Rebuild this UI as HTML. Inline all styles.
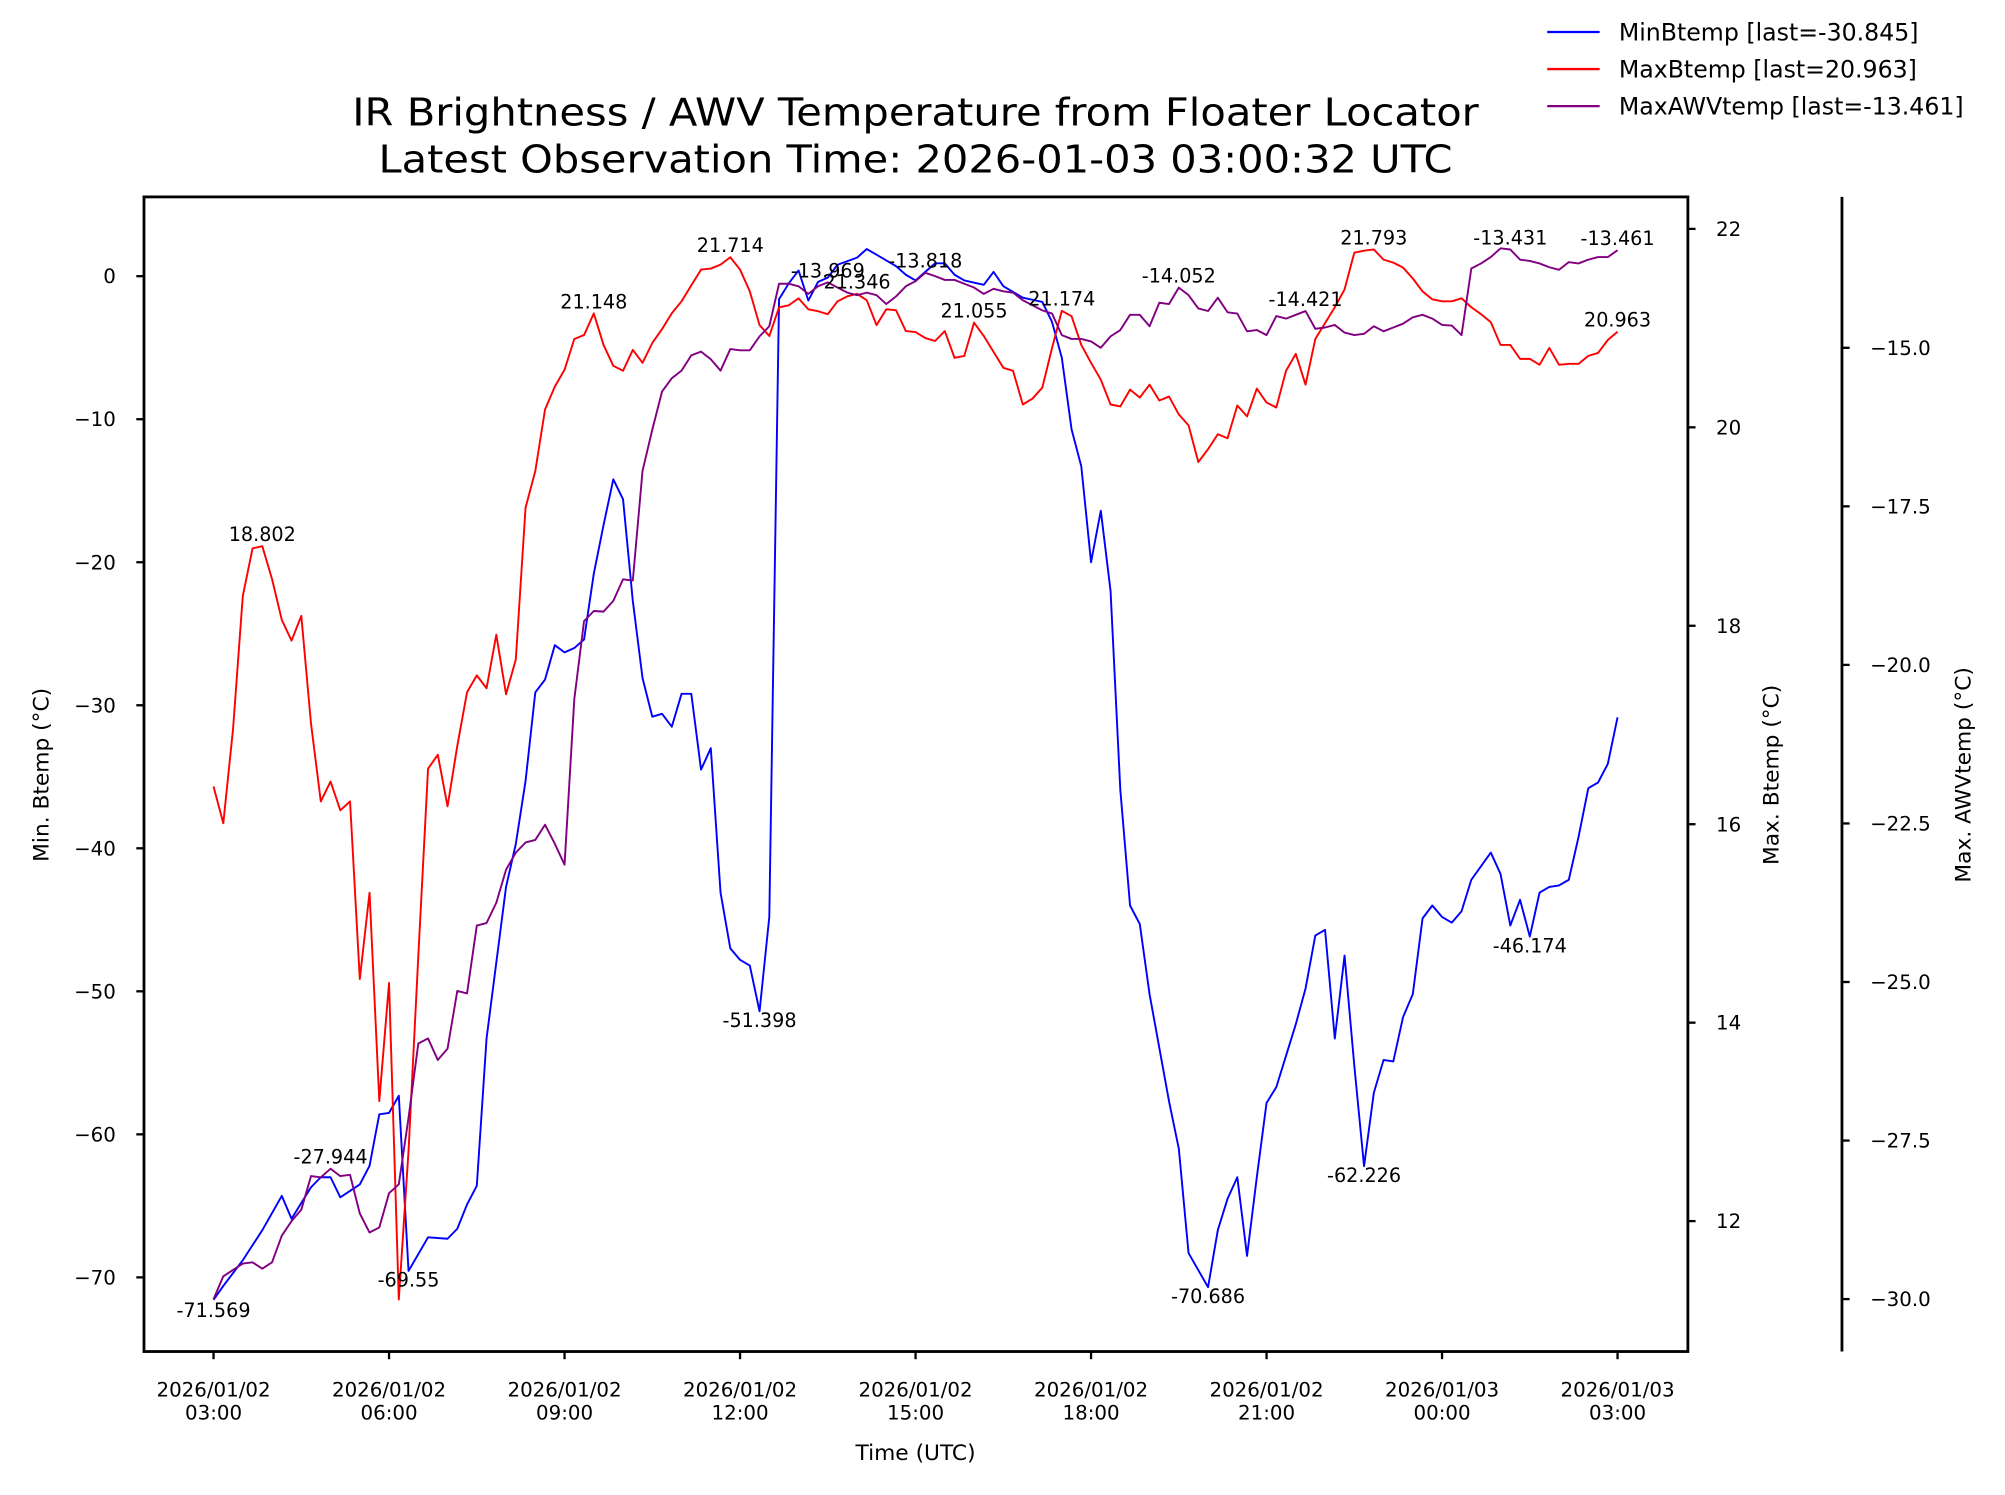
<!DOCTYPE html>
<html><head><meta charset="utf-8"><style>
html,body{margin:0;padding:0;background:#fff}
svg{display:block}
text{font-family:"DejaVu Sans","Liberation Sans",sans-serif;fill:#000}
</style></head><body>
<svg id="chart" width="2005" height="1495" viewBox="0 0 1568 1169.2" preserveAspectRatio="none" xmlns="http://www.w3.org/2000/svg">
<rect x="0" y="0" width="1568" height="1170" fill="#fff"/>
<text x="716" y="98" font-size="30" text-anchor="middle" textLength="881" lengthAdjust="spacingAndGlyphs">IR Brightness / AWV Temperature from Floater Locator</text>
<text x="716" y="135" font-size="30" text-anchor="middle" textLength="840" lengthAdjust="spacingAndGlyphs">Latest Observation Time: 2026-01-03 03:00:32 UTC</text>
<g id="plot"></g>
</svg>
<script>
const minTimes=[0,10,30,50,70,80,100,110,120,130,150,160,170,180,190,200,220,240,250,260,270,280,300,310,320,330,340,350,360,370,380,390,400,410,420,430,440,450,460,470,480,490,500,510,520,530,540,550,560,570,580,590,600,610,620,630,640,660,670,680,690,700,710,720,730,740,750,760,770,790,800,810,830,850,860,870,880,890,900,910,920,930,940,950,960,980,990,1000,1020,1030,1040,1050,1060,1070,1080,1090,1100,1110,1120,1130,1140,1150,1160,1170,1180,1190,1200,1210,1220,1230,1240,1250,1260,1270,1280,1290,1310,1320,1330,1340,1350,1360,1370,1380,1390,1400,1410,1420,1430,1440];
const minVals=[-71.569,-70.6,-68.8,-66.7,-64.3,-65.9,-63.7,-63.0,-63.0,-64.4,-63.5,-62.2,-58.6,-58.5,-57.3,-69.55,-67.2,-67.3,-66.6,-64.9,-63.6,-53.3,-42.7,-39.7,-35.3,-29.1,-28.2,-25.8,-26.3,-26.0,-25.4,-20.8,-17.4,-14.2,-15.6,-22.7,-28.1,-30.8,-30.6,-31.5,-29.2,-29.2,-34.5,-33.0,-43.1,-47.0,-47.8,-48.2,-51.398,-44.8,-1.6,-0.5,0.4,-1.7,-0.4,-0.1,0.8,1.3,1.9,1.5,1.1,0.7,0.1,-0.3,0.3,0.9,0.9,0.1,-0.3,-0.6,0.3,-0.7,-1.5,-1.8,-3.2,-5.7,-10.7,-13.3,-20.0,-16.4,-22.0,-35.9,-44.0,-45.3,-50.2,-57.7,-61.0,-68.3,-70.686,-66.7,-64.5,-63.0,-68.5,-63.0,-57.8,-56.7,-54.5,-52.3,-49.8,-46.1,-45.7,-53.3,-47.5,-55.2,-62.226,-57.1,-54.8,-54.9,-51.8,-50.2,-44.9,-44.0,-44.8,-45.2,-44.4,-42.2,-40.3,-41.8,-45.4,-43.6,-46.174,-43.1,-42.7,-42.6,-42.2,-39.2,-35.8,-35.4,-34.1,-30.845];
const maxVals=[16.38,16.01,16.96,18.30,18.78,18.802,18.47,18.06,17.85,18.10,17.01,16.23,16.43,16.14,16.23,14.44,15.31,13.21,14.40,11.21,12.71,14.67,16.56,16.70,16.18,16.79,17.33,17.50,17.37,17.91,17.31,17.66,19.19,19.56,20.18,20.41,20.58,20.89,20.93,21.148,20.83,20.62,20.57,20.78,20.65,20.85,20.99,21.15,21.27,21.43,21.59,21.60,21.64,21.714,21.59,21.37,21.03,20.92,21.21,21.23,21.30,21.19,21.17,21.14,21.27,21.32,21.346,21.28,21.03,21.19,21.18,20.97,20.96,20.90,20.87,20.97,20.70,20.72,21.055,20.92,20.76,20.60,20.57,20.23,20.29,20.40,20.80,21.174,21.12,20.83,20.65,20.48,20.23,20.21,20.38,20.30,20.43,20.27,20.31,20.13,20.02,19.65,19.78,19.93,19.89,20.22,20.11,20.39,20.25,20.20,20.57,20.74,20.43,20.89,21.05,21.21,21.39,21.76,21.78,21.793,21.69,21.66,21.61,21.50,21.37,21.29,21.27,21.27,21.30,21.21,21.14,21.06,20.83,20.83,20.69,20.69,20.63,20.80,20.63,20.64,20.64,20.72,20.75,20.88,20.963];
const awvVals=[-30.0,-29.64,-29.54,-29.44,-29.42,-29.52,-29.42,-29.0,-28.77,-28.59,-28.06,-28.08,-27.944,-28.06,-28.04,-28.65,-28.95,-28.87,-28.33,-28.19,-27.14,-25.97,-25.89,-26.23,-26.05,-25.14,-25.18,-24.11,-24.07,-23.75,-23.23,-22.96,-22.80,-22.76,-22.52,-22.82,-23.15,-20.54,-19.31,-19.15,-19.16,-18.99,-18.65,-18.67,-16.94,-16.29,-15.69,-15.48,-15.36,-15.12,-15.06,-15.18,-15.36,-15.02,-15.04,-15.04,-14.82,-14.66,-13.99,-13.99,-14.03,-14.15,-14.03,-13.969,-14.05,-14.13,-14.17,-14.13,-14.17,-14.31,-14.19,-14.03,-13.95,-13.818,-13.87,-13.93,-13.93,-13.99,-14.05,-14.15,-14.07,-14.11,-14.13,-14.25,-14.33,-14.41,-14.46,-14.80,-14.86,-14.86,-14.90,-15.0,-14.82,-14.72,-14.48,-14.48,-14.66,-14.29,-14.31,-14.052,-14.17,-14.38,-14.42,-14.21,-14.44,-14.46,-14.74,-14.72,-14.80,-14.50,-14.54,-14.48,-14.421,-14.70,-14.68,-14.64,-14.76,-14.80,-14.78,-14.66,-14.74,-14.68,-14.62,-14.52,-14.48,-14.54,-14.64,-14.65,-14.80,-13.75,-13.67,-13.57,-13.431,-13.45,-13.61,-13.63,-13.67,-13.73,-13.77,-13.65,-13.67,-13.61,-13.57,-13.57,-13.461];
const stepMinutes=10;
const xTickLabels=[["2026/01/02","03:00"],["2026/01/02","06:00"],["2026/01/02","09:00"],["2026/01/02","12:00"],["2026/01/02","15:00"],["2026/01/02","18:00"],["2026/01/02","21:00"],["2026/01/03","00:00"],["2026/01/03","03:00"]];
const minTicks=[-70,-60,-50,-40,-30,-20,-10,0];
const maxTicks=[12,14,16,18,20,22];
const awvTicks=[-30.0,-27.5,-25.0,-22.5,-20.0,-17.5,-15.0];
const minAnn=[[0,"-71.569",2],[200,"-69.55",1],[560,"-51.398",1],[1020,"-70.686",1],[1180,"-62.226",1],[1350,"-46.174",1]];
const maxAnn=[[50,"18.802",-4],[390,"21.148",-4],[530,"21.714",-4],[660,"21.346",-4],[780,"21.055",-4],[870,"21.174",-4],[1190,"21.793",-4],[1440,"20.963",-4]];
const awvAnn=[[120,"-27.944",-4],[630,"-13.969",-4],[730,"-13.818",-4],[990,"-14.052",-4],[1120,"-14.421",-4],[1330,"-13.431",-4],[1440,"-13.461",-4]];

const NS="http://www.w3.org/2000/svg";
const L=112.6,R=1320,T=154,B=1057,AX=1440.5;
const X0=167,X1=1265;
const xs=m=>X0+(X1-X0)*m/1440;
const yMin=v=>216+(0-v)*(999-216)/70;
const yMax=v=>179+(22-v)*(955-179)/10;
const yAwv=v=>272+(-15-v)*(1016-272)/15;
const g=document.getElementById('plot');
function el(tag,attrs,parent){const e=document.createElementNS(NS,tag);for(const k in attrs)e.setAttribute(k,attrs[k]);(parent||g).appendChild(e);return e;}
function txt(s,attrs,parent){const e=el('text',attrs,parent);e.textContent=s;return e;}
const fmt=v=>(v<0?"\u2212":"")+Math.abs(v);

function series(times,vals,fy,color,name){
  const d=vals.map((v,i)=>(i?"L":"M")+xs(times[i]).toFixed(2)+","+fy(v).toFixed(2)).join(" ");
  const p=el('path',{d:d,fill:'none',stroke:color,'stroke-width':1.5,'stroke-linejoin':'round'});
  
  
}
const maxTimes=maxVals.map((v,i)=>i*stepMinutes);
const awvTimes=awvVals.map((v,i)=>i*stepMinutes);
series(minTimes,minVals,yMin,'#0000ff','min-btemp-line');
series(maxTimes,maxVals,yMax,'#ff0000','max-btemp-line');
series(awvTimes,awvVals,yAwv,'#800080','max-awvtemp-line');

function ann(list,times,vals,fy,name){
  list.forEach(a=>{
    const i=times.indexOf(a[0]);
    const y=fy(vals[i])+a[2];
    const t=txt(a[1],{x:xs(a[0]),y:y,'font-size':15,'text-anchor':'middle','dominant-baseline':a[2]>0?'hanging':'auto'});
    
    
  });
}
ann(minAnn,minTimes,minVals,yMin,'min-annotation');
ann(maxAnn,maxTimes,maxVals,yMax,'max-annotation');
ann(awvAnn,awvTimes,awvVals,yAwv,'awv-annotation');

const fr=el('rect',{x:L,y:T,width:R-L,height:B-T,fill:'none',stroke:'#000','stroke-width':2.2});


const sp=el('line',{x1:AX,y1:T,x2:AX,y2:B,stroke:'#000','stroke-width':2.2});



xTickLabels.forEach((lab,i)=>{
  const x=xs(i*180);
  el('line',{x1:x,y1:B,x2:x,y2:B+6,stroke:'#000','stroke-width':1.8});
  const t=txt(lab[0],{x:x,y:B+35,'font-size':15.5,'text-anchor':'middle'});
  
  
  const t2=txt(lab[1],{x:x,y:B+53,'font-size':15.5,'text-anchor':'middle'});
  
  
});
minTicks.forEach(v=>{
  const y=yMin(v);
  el('line',{x1:L-6,y1:y,x2:L,y2:y,stroke:'#000','stroke-width':1.8});
  const t=txt(fmt(v),{x:L-22,y:y+5.5,'font-size':15.5,'text-anchor':'end'});
  
  
});
maxTicks.forEach(v=>{
  const y=yMax(v);
  el('line',{x1:R,y1:y,x2:R+6,y2:y,stroke:'#000','stroke-width':1.8});
  const t=txt(String(v),{x:R+22,y:y+5.5,'font-size':15.5});
  
  
});
awvTicks.forEach(v=>{
  const y=yAwv(v);
  el('line',{x1:AX,y1:y,x2:AX+6,y2:y,stroke:'#000','stroke-width':1.8});
  const t=txt("\u2212"+Math.abs(v).toFixed(1),{x:AX+22,y:y+5.5,'font-size':15.5});
  
  
});
const xl=txt('Time (UTC)',{x:716,y:1142,'font-size':17,'text-anchor':'middle'});


const yl=txt('Min. Btemp (°C)',{x:0,y:0,'font-size':17,'text-anchor':'middle',transform:'translate(38,606) rotate(-90)'});


const yr=txt('Max. Btemp (°C)',{x:0,y:0,'font-size':17,'text-anchor':'middle',transform:'translate(1391,606) rotate(-90)'});


const ya=txt('Max. AWVtemp (°C)',{x:0,y:0,'font-size':17,'text-anchor':'middle',transform:'translate(1541,606) rotate(-90)'});



const legendLabels=["MinBtemp [last=-30.845]","MaxBtemp [last=20.963]","MaxAWVtemp [last=-13.461]"];
const legendColors=['#0000ff','#ff0000','#800080'];
legendLabels.forEach((s,i)=>{
  const y=25+i*29;
  const ln=el('line',{x1:1210,y1:y,x2:1251,y2:y,stroke:legendColors[i],'stroke-width':1.8});
  
  
  const t=txt(s,{x:1266,y:y+6.5,'font-size':18.5});
  
  
});
</script>
</body></html>
